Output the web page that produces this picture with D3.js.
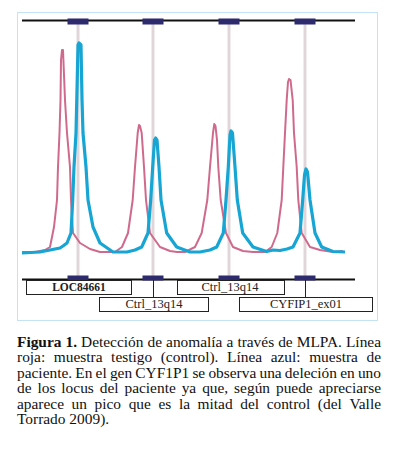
<!DOCTYPE html>
<html>
<head>
<meta charset="utf-8">
<title>MLPA</title>
<style>
  body { margin: 0; background: #fff; }
</style>
</head>
<body>
<div id="chart"></div>
<script src="https://d3js.org/d3.v7.min.js"></script>
<script>
// peak traces: position along the run and signal height
var controlX = [22, 35, 45, 50, 54, 57, 58, 59.5, 60.5, 61, 62, 63, 64, 65, 67, 70, 71, 73, 80, 90, 100,
  115, 122, 128, 132.7, 135, 137.7, 139, 140, 141.7, 144, 146, 150, 160, 170, 177,
  185, 195, 201.7, 207.3, 210, 213, 214.3, 215.5, 217, 218.3, 220.7, 226, 233, 243, 253,
  265, 271.7, 277.3, 281.7, 283.3, 285, 286.7, 288, 289, 290.5, 292.7, 294, 296.7, 298.3, 301.7, 310, 320, 333, 343];
var controlY = [0, 0, 2, 5, 25, 52, 85, 119, 152, 192, 202, 202, 177, 152, 119, 85, 52, 19, 9, 3, 0,
  0, 5, 19, 52, 85, 119, 127, 126, 119, 85, 52, 19, 5, 1, 0,
  0, 5, 19, 52, 85, 119, 128, 126, 112, 85, 52, 19, 5, 1, 0,
  0, 5, 19, 52, 85, 119, 152, 170, 173, 172, 152, 119, 85, 52, 19, 5, 2, 0, 1];

var patientX = [22, 40, 50, 60, 63, 67, 69, 71, 72.7, 74, 76, 77, 78, 79, 81, 82, 83, 86, 88, 93, 100, 113,
  127, 135, 141.7, 148, 150.7, 152.7, 154.5, 155.7, 157, 159, 161, 166.7, 176.7, 190,
  200, 210, 216.7, 223.3, 226, 228.3, 230, 231, 232.5, 235, 237.3, 242.7, 253, 266.7,
  273, 280, 287, 293, 300, 302.7, 304.5, 306, 307.5, 310, 315, 321.7, 333, 345];
var patientY = [-1, 0, 2, 4, 6, 9, 14, 19, 52, 85, 119, 162, 207, 209, 207, 152, 119, 85, 52, 25, 9, 0,
  0, 2, 5, 19, 52, 85, 112, 114, 112, 85, 52, 19, 5, 0,
  0, 2, 5, 19, 52, 85, 117, 121, 119, 85, 52, 19, 5, 0.5,
  2, 1.5, 3, 5, 19, 52, 77, 83, 80, 52, 19, 5, 0.5, 0];

var markers = [78, 153, 229, 305];
var probeNames = ["LOC84661", "Ctrl_13q14", "Ctrl_13q14", "CYFIP1_ex01"];
var probeRow = [0, 1, 0, 1];
var probeLeft = [26, 99, 177, 239];
var probeRight = [131, 208, 284, 372];

var captionLines = [
  "*Figura 1.* Detección de anomalía a través de MLPA. Línea",
  "roja: muestra testigo (control). Línea azul: muestra de",
  "paciente. En el gen CYF1P1 se observa una deleción en uno",
  "de los locus del paciente ya que, según puede apreciarse",
  "aparece un pico que es la mitad del control (del Valle",
  "Torrado 2009)."
];

var serif = "'Liberation Serif', 'Times New Roman', Times, serif";
var W = 397, H = 450;
var svg = d3.select("#chart").append("svg").attr("width", W).attr("height", H);

var x = d3.scaleLinear().domain([0, 400]).range([0, 400]);
var y = d3.scaleLinear().domain([0, 210]).range([252, 42]);

// frame
svg.append("rect")
  .attr("x", 17.5).attr("y", 12.5).attr("width", 360).attr("height", 308)
  .attr("fill", "none").attr("stroke", "#8cc4ea").attr("stroke-width", 1)
  .attr("stroke-dasharray", "1,1");

// grey guide lines
svg.selectAll("line.guide").data(markers).enter().append("line")
  .attr("class", "guide")
  .attr("x1", function(d) { return x(d); }).attr("x2", function(d) { return x(d); })
  .attr("y1", 24).attr("y2", 276)
  .attr("stroke", "#e0d6da").attr("stroke-width", 3);

// scale bars top and bottom
[20.5, 279.5].forEach(function(yy, k) {
  svg.append("line").attr("x1", 22).attr("x2", 355).attr("y1", yy).attr("y2", yy)
    .attr("stroke", "#111").attr("stroke-width", 2);
  svg.selectAll("rect.bar" + k).data(markers).enter().append("rect")
    .attr("class", "bar" + k)
    .attr("x", function(d) { return x(d) - 10.5; })
    .attr("y", k === 0 ? 18.5 : 275.5)
    .attr("width", 21).attr("height", k === 0 ? 6 : 5)
    .attr("fill", "#2d2b6e");
});

var line = d3.line()
  .x(function(d) { return x(d[0]); })
  .y(function(d) { return y(d[1]); });

var control = d3.zip(controlX, controlY);
var patient = d3.zip(patientX, patientY);

svg.append("path").datum(control)
  .attr("d", line).attr("fill", "none")
  .attr("stroke", "#d06a8c").attr("stroke-width", 2).attr("stroke-linejoin", "round");

svg.append("path").datum(patient)
  .attr("d", line).attr("fill", "none")
  .attr("stroke", "#17a5d3").attr("stroke-width", 3.2).attr("stroke-linejoin", "round");

// probe labels
var probe = svg.append("g").attr("class", "probe");
probeNames.forEach(function(name, i) {
  var top = probeRow[i] === 0 ? 280.5 : 297.5;
  if (probeRow[i] === 1) {
    probe.append("line")
      .attr("x1", x(markers[i]) + 0.5).attr("x2", x(markers[i]) + 0.5)
      .attr("y1", 280).attr("y2", 297.5)
      .attr("stroke", "#222").attr("stroke-width", 1);
  }
  probe.append("rect")
    .attr("x", probeLeft[i] + 0.5).attr("y", top)
    .attr("width", probeRight[i] - probeLeft[i]).attr("height", 14)
    .attr("fill", "#fff").attr("stroke", "#222").attr("stroke-width", 1);
  probe.append("text")
    .attr("x", x(markers[i]) + 1).attr("y", top + 10.5)
    .attr("text-anchor", "middle")
    .attr("font-family", serif)
    .attr("font-weight", i === 0 ? "bold" : "normal")
    .attr("font-size", i === 0 ? 11.5 : 12.5)
    .attr("fill", "#222")
    .text(name);
});

// caption, justified
var cap = svg.append("g").attr("class", "caption")
  .attr("font-family", serif).attr("fill", "#111");
var left = 17, right = 381, lh = 15.4, base = 347;
var fs = 15.4;

captionLines.forEach(function(ln, li) {
  var words = [];
  var bold = false;
  ln.split(" ").forEach(function(w) {
    var b = bold;
    if (w.charAt(0) === "*") { b = true; bold = true; w = w.slice(1); }
    if (w.charAt(w.length - 1) === "*") { w = w.slice(0, -1); bold = false; }
    words.push({ t: w, b: b });
  });
  var nodes = words.map(function(w) {
    return cap.append("text").attr("font-size", fs)
      .attr("font-weight", w.b ? "bold" : "normal")
      .attr("y", base + li * lh).text(w.t);
  });
  var widths = nodes.map(function(n) { return n.node().getComputedTextLength(); });
  var total = d3.sum(widths);
  var gap = fs * 0.25;
  var squeeze = 1;
  if (li < captionLines.length - 1 && words.length > 1) {
    gap = (right - left - total) / (words.length - 1);
    if (gap < 2.5) {
      // line too long: narrow the glyphs a little
      gap = 2.5;
      squeeze = (right - left - gap * (words.length - 1)) / total;
    }
  }
  var cx = left;
  nodes.forEach(function(n, k) {
    var w = widths[k] * squeeze;
    n.attr("x", cx);
    if (squeeze !== 1) n.attr("textLength", w).attr("lengthAdjust", "spacingAndGlyphs");
    cx += w + gap;
  });
});
</script>
</body>
</html>
